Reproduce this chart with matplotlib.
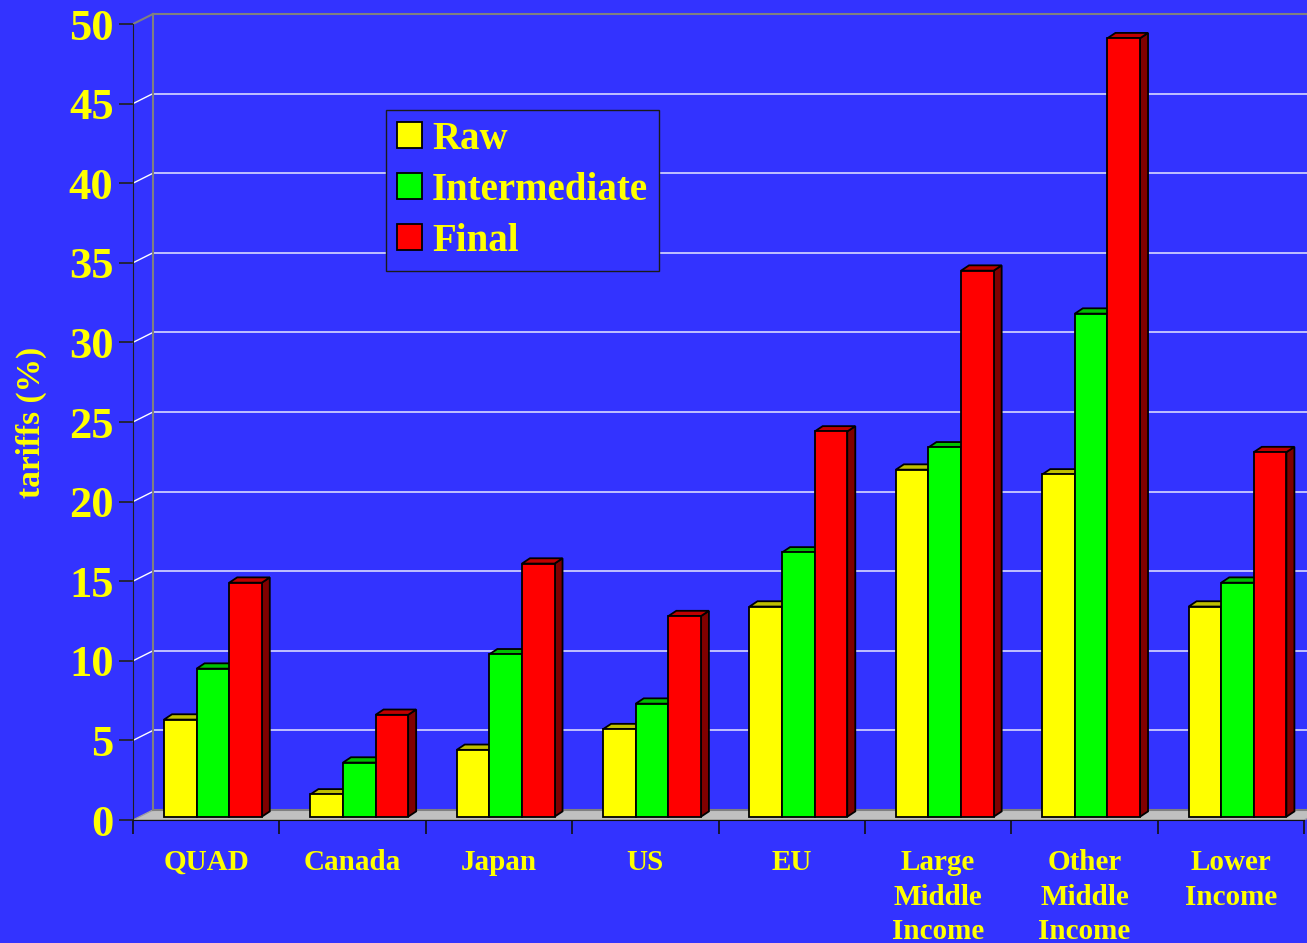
import matplotlib
matplotlib.use("Agg")
import matplotlib.pyplot as plt
import numpy as np
from matplotlib.patches import Polygon

categories = ["QUAD", "Canada", "Japan", "US", "EU",
              "Large\nMiddle\nIncome", "Other\nMiddle\nIncome", "Lower\nIncome"]
raw = [6.1, 1.4, 4.2, 5.5, 13.2, 21.8, 21.5, 13.2]
intermediate = [9.3, 3.4, 10.2, 7.1, 16.6, 23.2, 31.6, 14.7]
final = [14.7, 6.4, 15.9, 12.6, 24.2, 34.3, 48.9, 22.9]
series_names = ["Raw", "Intermediate", "Final"]

BG = "#3333FF"
YEL = "#FFFF00"
front_cols = ["#FFFF00", "#00FF00", "#FF0000"]
top_cols = ["#C0C000", "#00C000", "#C00000"]
side_cols = ["#808000", "#008000", "#800000"]

plt.rcParams["font.family"] = ["Liberation Serif", "DejaVu Serif"]
plt.rcParams["font.weight"] = "bold"

W, H = 1307, 943
fig = plt.figure(figsize=(W / 100, H / 100), dpi=100, facecolor=BG)
ax = fig.add_axes([133 / W, (H - 820) / H, (1304 - 133) / W, (820 - 24) / H])
ax.set_facecolor("none")
n = len(categories)
ax.set_xlim(0, n)
ax.set_ylim(0, 50)

# pseudo-3D offsets (data units)
wdx, wdy = 0.1366, 0.628   # back wall
bdx, bdy = 0.0458, 0.207   # front face of bars
sdx, sdy = 0.0546, 0.333   # bar depth
bw = 0.2227

# floor and back wall
ax.add_patch(Polygon([(0, 0), (n, 0), (n + wdx, wdy), (wdx, wdy)], closed=True,
                     facecolor="#C0C0C0", edgecolor="#A0A0A0", lw=1, zorder=1, clip_on=False))
ax.plot([wdx, n + wdx], [wdy, wdy], color="#808080", lw=1.5, zorder=1.5, clip_on=False)
ax.plot([wdx, wdx], [wdy, 50 + wdy], color="#808080", lw=1.5, zorder=1.5, clip_on=False)
ax.plot([wdx, n + wdx], [50 + wdy, 50 + wdy], color="#808080", lw=1.5, zorder=1.5, clip_on=False)
ax.plot([0, wdx], [50, 50 + wdy], color="#808080", lw=1.5, zorder=1.5, clip_on=False)
for k in range(5, 50, 5):
    ax.plot([wdx, n + wdx], [k + wdy, k + wdy], color="#D8D8FF", lw=1.2, zorder=1.2, clip_on=False)
    ax.plot([0, wdx], [k, k + wdy], color="#FFFFFF", lw=1, zorder=1.2, clip_on=False)

# bars: side, top, then front face, left to right
x0 = np.arange(n) + 0.5 + bdx - 1.5 * bw
for i in range(n):
    for j, vals in enumerate([raw, intermediate, final]):
        x = x0[i] + j * bw
        v = vals[i]
        y1 = bdy + v
        ax.add_patch(Polygon([(x + bw, bdy), (x + bw + sdx, bdy + sdy), (x + bw + sdx, y1 + sdy), (x + bw, y1)],
                             closed=True, facecolor=side_cols[j], edgecolor="black", lw=1.3, zorder=3))
        ax.add_patch(Polygon([(x, y1), (x + sdx, y1 + sdy), (x + bw + sdx, y1 + sdy), (x + bw, y1)],
                             closed=True, facecolor=top_cols[j], edgecolor="black", lw=1.3, zorder=3))
        ax.bar(x, v, bottom=bdy, width=bw, align="edge", color=front_cols[j],
               edgecolor="black", lw=1.3, zorder=3,
               label=series_names[j] if i == 0 else None)

# axes styling
for s in ["top", "right"]:
    ax.spines[s].set_visible(False)
ax.spines["left"].set_color("#202020")
ax.spines["bottom"].set_color("#101010")
ax.spines["left"].set_zorder(5)
ax.spines["bottom"].set_zorder(5)

ax.set_yticks(np.arange(0, 51, 5))
ax.tick_params(axis="y", direction="out", length=10, width=1.2, color="#202020",
               labelsize=32, labelcolor=YEL, pad=4)
ax.set_xticks(np.arange(0, n + 1))
ax.set_xticklabels([])
ax.tick_params(axis="x", which="major", direction="out", length=10, width=1.2, color="#101010")
ax.set_xticks(np.arange(n) + 0.5, minor=True)
ax.set_xticklabels(categories, minor=True, linespacing=1.35)
ax.tick_params(axis="x", which="minor", length=0, labelsize=21, labelcolor=YEL, pad=21)
for t in ax.get_xticklabels(minor=True) + ax.get_yticklabels():
    t.set_fontweight("bold")

ax.set_ylabel("tariffs (%)", fontsize=24, fontweight="bold", color=YEL)
ax.yaxis.label.set_va("center")
ax.yaxis.set_label_coords(-0.087, 0.5)

leg = ax.legend(loc="upper left", bbox_to_anchor=(386 / W, 1 - 110 / H),
                bbox_transform=fig.transFigure, borderaxespad=0, fancybox=False,
                facecolor=BG, edgecolor="#1a1a1a", framealpha=1,
                prop={"size": 28, "weight": "bold"}, handlelength=0.65, handleheight=0.65,
                handletextpad=0.25, labelspacing=0.36, borderpad=0.28)
leg.get_frame().set_linewidth(1)
for t in leg.get_texts():
    t.set_color(YEL)
leg.set_zorder(10)

fig.savefig("out.png", dpi=100, facecolor=BG)
